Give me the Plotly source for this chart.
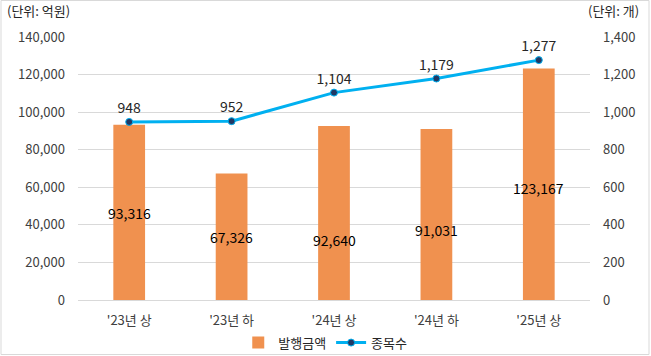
import plotly.graph_objects as go

categories = ["'23년 상", "'23년 하", "'24년 상", "'24년 하", "'25년 상"]
amount = [93316, 67326, 92640, 91031, 123167]
count = [948, 952, 1104, 1179, 1277]
left_ticks = [0, 20000, 40000, 60000, 80000, 100000, 120000, 140000]
right_ticks = [0, 200, 400, 600, 800, 1000, 1200, 1400]
amount_label_y = [46300, 33500, 31900, 37300, 59600]

FONT = "Noto Sans CJK KR, Malgun Gothic, sans-serif"
BAR = "#F0914F"
LINE = "#00B0F0"

fig = go.Figure()
fig.add_trace(go.Bar(
    x=categories, y=amount, name="발행금액",
    marker=dict(color=BAR, line=dict(width=0)),
    width=0.31, yaxis="y",
))
fig.add_trace(go.Scatter(
    x=categories, y=count, name="종목수", yaxis="y2",
    mode="lines+markers+text",
    line=dict(color=LINE, width=3),
    marker=dict(color="#203864", size=7, line=dict(color=LINE, width=1)),
    text=[f"{v:,}" for v in count], textposition="top center",
    textfont=dict(size=14, color="#262626", family=FONT),
    cliponaxis=False,
))
for c, v, ly in zip(categories, amount, amount_label_y):
    fig.add_annotation(x=c, y=ly, yref="y", text=f"{v:,}", showarrow=False,
                       font=dict(size=14, color="#000000", family=FONT))

fig.add_annotation(xref="paper", yref="paper", x=-0.143, y=1.1, xanchor="left", yanchor="middle",
                   text="(단위: 억원)", showarrow=False, font=dict(size=13, color="#262626", family=FONT))
fig.add_annotation(xref="paper", yref="paper", x=1.1, y=1.1, xanchor="right", yanchor="middle",
                   text="(단위: 개)", showarrow=False, font=dict(size=13, color="#262626", family=FONT))

# outer frame
fig.add_shape(type="rect", xref="paper", yref="paper",
              x0=-77/512, x1=(649-78)/512, y0=-(354.5-300)/263, y1=(37-0.5)/263 + 1,
              line=dict(color="#D9D9D9", width=1), fillcolor="rgba(0,0,0,0)")

fig.update_layout(
    width=651, height=356,
    margin=dict(l=78, r=61, t=37, b=56, autoexpand=False),
    paper_bgcolor="white", plot_bgcolor="white",
    font=dict(family=FONT, size=13, color="#404040"),
    showlegend=True,
    legend=dict(orientation="h", x=0.313, xanchor="left", y=-0.105, yanchor="top",
                font=dict(size=13, color="#262626", family=FONT),
                tracegroupgap=0, bgcolor="rgba(0,0,0,0)"),
    xaxis=dict(showgrid=False, showline=True, linecolor="#D9D9D9", linewidth=1,
               ticks="", tickfont=dict(size=13, color="#404040"), ticklabelstandoff=8),
    yaxis=dict(range=[0, 140000], tickvals=left_ticks, ticktext=[f"{v:,}" for v in left_ticks],
               showgrid=True, gridcolor="#D9D9D9", gridwidth=1, zeroline=False,
               ticks="", ticklabelstandoff=12, tickfont=dict(size=13, color="#404040")),
    yaxis2=dict(range=[0, 1400], tickvals=right_ticks, ticktext=[f"{v:,}" for v in right_ticks],
                overlaying="y", side="right", showgrid=False, zeroline=False,
                ticks="", ticklabelstandoff=12, tickfont=dict(size=13, color="#404040")),
)

fig.write_html("out.html", config={"displayModeBar": False},
               post_script="document.body.style.margin='0';document.body.style.overflow='hidden';")
